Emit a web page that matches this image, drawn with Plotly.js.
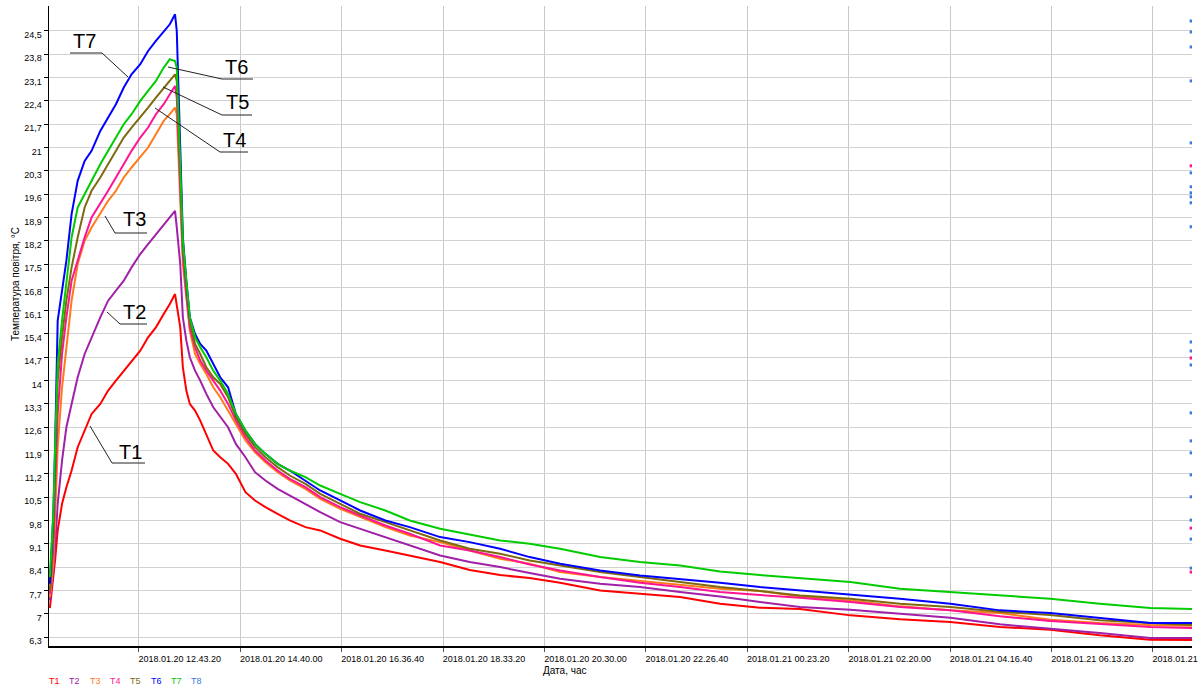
<!DOCTYPE html>
<html>
<head>
<meta charset="utf-8">
<script src="https://cdn.plot.ly/plotly-3.0.1.min.js"></script>
<style>html,body{margin:0;padding:0;background:#fff;}#chart{width:1198px;height:688px;}</style>
</head>
<body>
<div id="chart"></div>
<script>
// minutes after 2018-01-20 11:00:00
const minutes = [1,2,5,7,10,15,20,26,33,41,49,59,68,77,86,95,105,114,123,132,139,145,147,151,154,158,162,168,174,181,189,197,206,215,226,237,249,263,277,295,312,335,358,387,415,450,484,519,553,588,634,680,726,772,818,864,922,979,1037,1094,1152,1209,1267,1315];

const T1 = [7.17,7.4,8.0,8.6,9.5,10.3,10.8,11.3,12.0,12.5,13.0,13.3,13.7,14.0,14.3,14.6,14.9,15.3,15.6,16.0,16.3,16.6,16.3,15.6,14.4,13.7,13.3,13.1,12.8,12.4,11.9,11.7,11.5,11.2,10.65,10.4,10.2,10.0,9.8,9.6,9.5,9.25,9.05,8.9,8.75,8.55,8.31,8.16,8.07,7.93,7.7,7.6,7.5,7.3,7.18,7.14,6.95,6.83,6.75,6.6,6.52,6.35,6.22,6.21];
const T2 = [7.4,7.6,8.3,9.0,10.3,11.6,12.6,13.3,14.1,14.8,15.3,15.9,16.4,16.7,17.0,17.4,17.8,18.1,18.4,18.7,18.9,19.1,18.6,17.5,15.9,15.2,14.7,14.3,14.0,13.6,13.2,12.9,12.6,12.1,11.7,11.25,11.0,10.75,10.55,10.3,10.05,9.75,9.55,9.3,9.05,8.75,8.55,8.4,8.22,8.05,7.9,7.8,7.65,7.52,7.35,7.2,7.12,7.0,6.88,6.68,6.55,6.42,6.27,6.27];
const T3 = [7.5,7.7,8.5,10.0,12.0,13.8,15.0,16.4,17.5,18.2,18.6,19.0,19.4,19.7,20.1,20.4,20.7,21.0,21.4,21.8,22.0,22.2,22.0,19.5,17.5,16.5,15.5,14.8,14.5,14.2,13.8,13.5,13.1,12.7,12.2,11.85,11.55,11.25,11.0,10.75,10.45,10.15,9.9,9.6,9.35,9.15,8.9,8.65,8.5,8.25,8.1,7.98,7.85,7.75,7.68,7.52,7.4,7.22,7.1,7.02,6.82,6.72,6.66,6.64];
const T4 = [7.6,7.9,9.0,10.8,13.0,14.8,15.9,17.0,17.6,18.3,18.9,19.3,19.7,20.1,20.5,20.9,21.3,21.6,22.0,22.3,22.6,22.85,22.5,20.0,17.8,16.6,15.6,15.0,14.6,14.3,14.0,13.7,13.3,12.8,12.3,11.9,11.6,11.3,11.05,10.8,10.5,10.2,9.95,9.65,9.4,9.05,8.9,8.7,8.48,8.3,8.1,7.93,7.8,7.65,7.56,7.48,7.35,7.2,7.1,6.92,6.78,6.68,6.6,6.57];
const T5 = [7.7,8.0,9.5,11.5,14.0,15.3,16.4,17.4,18.3,19.2,19.7,20.1,20.5,20.9,21.3,21.6,21.9,22.2,22.5,22.8,23.0,23.2,23.0,20.5,18.0,16.8,15.8,15.1,14.8,14.4,14.1,13.9,13.5,12.9,12.4,12.0,11.7,11.4,11.15,10.9,10.6,10.3,10.0,9.75,9.5,9.2,8.95,8.8,8.6,8.45,8.25,8.1,7.95,7.8,7.68,7.55,7.45,7.3,7.2,7.06,6.96,6.8,6.72,6.66];
const T6 = [7.9,8.5,10.0,12.0,15.8,16.7,17.6,19.0,20.0,20.6,20.9,21.5,21.9,22.3,22.8,23.2,23.5,23.9,24.2,24.5,24.7,25.0,24.5,21.0,18.3,17.0,15.9,15.4,15.1,14.9,14.5,14.1,13.8,13.0,12.5,12.1,11.8,11.5,11.3,11.0,10.7,10.4,10.1,9.8,9.6,9.3,9.15,8.95,8.7,8.5,8.3,8.15,8.05,7.93,7.8,7.7,7.56,7.45,7.3,7.1,7.02,6.88,6.72,6.72];
const T7 = [8.1,8.6,10.0,12.0,14.5,15.8,17.0,18.3,19.2,19.6,20.0,20.5,20.9,21.3,21.7,22.0,22.4,22.7,23.0,23.4,23.65,23.6,23.4,20.5,18.2,17.0,15.9,15.3,15.0,14.7,14.3,14.0,13.6,13.0,12.5,12.1,11.8,11.5,11.3,11.1,10.85,10.6,10.35,10.1,9.8,9.55,9.38,9.2,9.1,8.95,8.7,8.55,8.45,8.27,8.16,8.07,7.95,7.75,7.65,7.56,7.45,7.3,7.17,7.14];

// isolated readings at the end of the record
const T8dots = [24.8,24.47,24.02,23.0,21.14,20.24,19.82,19.64,19.52,19.34,18.62,15.16,14.89,14.47,13.03,12.19,11.83,11.17,10.51,9.81,9.24,8.37];
const T4dots = [20.45,14.68,9.57,8.25];
const dotMinute = 1314;

const seriesNames = ['T1','T2','T3','T4','T5','T6','T7','T8'];
const seriesColors = ['#ff0000','#a020a8','#ff7a1a','#ff1493','#7d6a10','#0000ff','#00cc00','#3a78e0'];

const yTickVals = [6.3,7,7.7,8.4,9.1,9.8,10.5,11.2,11.9,12.6,13.3,14,14.7,15.4,16.1,16.8,17.5,18.2,18.9,19.6,20.3,21,21.7,22.4,23.1,23.8,24.5];
const yTickText = ['6,3','7','7,7','8,4','9,1','9,8','10,5','11,2','11,9','12,6','13,3','14','14,7','15,4','16,1','16,8','17,5','18,2','18,9','19,6','20,3','21','21,7','22,4','23,1','23,8','24,5'];
const xTickVals = ['2018-01-20 12:43:20','2018-01-20 14:40:00','2018-01-20 16:36:40','2018-01-20 18:33:20','2018-01-20 20:30:00','2018-01-20 22:26:40','2018-01-21 00:23:20','2018-01-21 02:20:00','2018-01-21 04:16:40','2018-01-21 06:13:20','2018-01-21 08:10:00'];
const xTickText = ['2018.01.20 12.43.20','2018.01.20 14.40.00','2018.01.20 16.36.40','2018.01.20 18.33.20','2018.01.20 20.30.00','2018.01.20 22.26.40','2018.01.21 00.23.20','2018.01.21 02.20.00','2018.01.21 04.16.40','2018.01.21 06.13.20','2018.01.21 08.10.00'];

const base = Date.UTC(2018,0,20,11,0,0);
function toDate(m){
  const d = new Date(base + m*60000);
  const p = n => String(n).padStart(2,'0');
  return d.getUTCFullYear()+'-'+p(d.getUTCMonth()+1)+'-'+p(d.getUTCDate())+' '+p(d.getUTCHours())+':'+p(d.getUTCMinutes())+':'+p(d.getUTCSeconds());
}
const xs = minutes.map(toDate);

const W = 1198, H = 688, ML = 49, MR = 6, MT = 6, MB = 42;
const pw = W-ML-MR, ph = H-MT-MB;
const px = x => (x-ML)/pw;
const py = y => (H-MB-y)/ph;

const values = [T1,T2,T3,T4,T5,T6,T7];
const traces = [];
values.forEach((v,i)=>{
  traces.push({x: xs, y: v, type:'scatter', mode:'lines', name: seriesNames[i],
    line:{color: seriesColors[i], width:2}, hoverinfo:'skip'});
});
traces.push({x: T8dots.map(()=>toDate(dotMinute)), y: T8dots, type:'scatter', mode:'markers', name:'T8',
  marker:{color: seriesColors[7], size:3, symbol:'square'}, hoverinfo:'skip'});
traces.push({x: T4dots.map(()=>toDate(dotMinute)), y: T4dots, type:'scatter', mode:'markers', name:'T4',
  marker:{color: seriesColors[3], size:3, symbol:'square'}, hoverinfo:'skip'});

// callout labels: [label, text x, text y, path points]
const callouts = [
  ['T7', 84, 41, [[128,77],[102,53],[70,53]]],
  ['T6', 236, 67, [[168,67],[222,79],[253,79]]],
  ['T5', 237, 102, [[163,87],[222,115],[252,115]]],
  ['T4', 234, 140, [[155,108],[220,152],[248,152]]],
  ['T3', 134, 219, [[105,216],[115,233],[147,233]]],
  ['T2', 134, 312, [[107,312],[120,324],[147,324]]],
  ['T1', 130, 452, [[90,426],[112,463],[145,463]]]
];
const annotations = [];
const shapes = [];
callouts.forEach(c=>{
  annotations.push({text:c[0], xref:'paper', yref:'paper', x:px(c[1]), y:py(c[2]), xanchor:'center', yanchor:'middle',
    showarrow:false, font:{family:'Liberation Sans, Arial, sans-serif', size:20, color:'#000'}});
  const pts = c[3];
  let d = 'M '+px(pts[0][0])+' '+py(pts[0][1]);
  for (let k=1;k<pts.length;k++) d += ' L '+px(pts[k][0])+' '+py(pts[k][1]);
  shapes.push({type:'path', xref:'paper', yref:'paper', path:d, line:{color:'#222', width:1}});
});
// bottom legend as coloured text
seriesNames.forEach((n,i)=>{
  annotations.push({text:n, xref:'paper', yref:'paper', x:px(47+i*20.3), y:py(681), xanchor:'left', yanchor:'middle',
    showarrow:false, font:{family:'Liberation Sans, Arial, sans-serif', size:9, color:seriesColors[i]}});
});
annotations.push({text:'Дата, час', xref:'paper', yref:'paper', x:px(564), y:py(670), xanchor:'center', yanchor:'middle',
  showarrow:false, font:{family:'Liberation Sans, Arial, sans-serif', size:10, color:'#000'}});
annotations.push({text:'Температура повітря, °C', xref:'paper', yref:'paper', x:px(15), y:py(284), xanchor:'center', yanchor:'middle',
  textangle:-90, showarrow:false, font:{family:'Liberation Sans, Arial, sans-serif', size:10, color:'#000'}});

const layout = {
  width: W, height: H,
  margin:{l:ML, r:MR, t:MT, b:MB, pad:0},
  paper_bgcolor:'#fff', plot_bgcolor:'#fff',
  showlegend:false,
  hovermode:false,
  font:{family:'Liberation Sans, Arial, sans-serif', size:9, color:'#000'},
  xaxis:{type:'date', range:[toDate(0), toDate(1315)], tickmode:'array', tickvals:xTickVals, ticktext:xTickText,
    showgrid:true, gridcolor:'#c8c8c8', gridwidth:1, zeroline:false,
    showline:true, linecolor:'#000', linewidth:1.5, ticks:'outside', ticklen:4, tickcolor:'#555', tickwidth:1,
    ticklabelshift:41, ticklabelstandoff:0, ticklabeloverflow:'allow', tickfont:{size:9, color:'#000'}},
  yaxis:{range:[6.03,25.25], tickmode:'array', tickvals:yTickVals, ticktext:yTickText,
    showgrid:true, gridcolor:'#d2d2d2', gridwidth:1, zeroline:false,
    showline:true, linecolor:'#000', linewidth:1.5, ticks:'outside', ticklen:4, tickcolor:'#000', tickwidth:1,
    ticklabelshift:4, ticklabelstandoff:0, tickfont:{size:9, color:'#000'}},
  annotations: annotations,
  shapes: shapes
};

Plotly.newPlot('chart', traces, layout, {displayModeBar:false, staticPlot:true});
</script>
</body>
</html>
